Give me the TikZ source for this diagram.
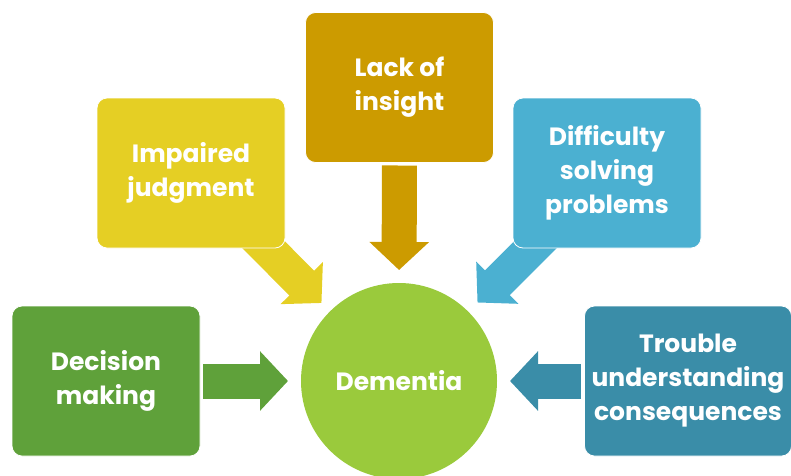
\documentclass[tikz,border=0pt]{standalone}
\usepackage{fontspec}
\setmainfont{Poppins}
\usepackage{tikz}
\usetikzlibrary{arrows.meta,backgrounds}
\definecolor{dmgreen}{HTML}{5FA13A}
\definecolor{demgreen}{HTML}{9ACA3C}
\definecolor{ijyellow}{HTML}{E5CF24}
\definecolor{ligold}{HTML}{CC9B00}
\definecolor{dspblue}{HTML}{4BB0D1}
\definecolor{tuteal}{HTML}{3A8DA8}

\tikzset{
	causebox/.style={rounded corners=10pt, draw=white, line width=0.8pt, text=white,
		minimum width=188pt, minimum height=150pt, align=center, inner sep=0pt, outer sep=0pt,
		font=\fontsize{25}{34}\selectfont\bfseries},
	fatarrow/.style={draw=#1, line width=35pt, -{Triangle[length=28pt, width=58pt]}}
}

\begin{document}
\begin{tikzpicture}[x=1pt, y=-1pt]
			\useasboundingbox (0,0) rectangle (791,475);
			\node[circle, fill=demgreen, minimum size=196pt, inner sep=0pt, outer sep=0pt, text=white,
				font=\fontsize{25}{34}\selectfont\bfseries] (dem) at (399,381) {Dementia};
			\node[causebox, fill=dmgreen] (dm) at (106,381) {Decision\\making};
			\node[causebox, fill=ijyellow] (ij) at (191,173) {Impaired\\judgment};
			\node[causebox, fill=ligold] (li) at (399.5,87.5) {Lack of\\insight};
			\node[causebox, fill=dspblue] (dsp) at (607,173) {Difficulty\\solving\\problems};
			\node[causebox, fill=tuteal, minimum width=207pt] (tu) at (688,381) {Trouble\\understanding\\consequences};
			\coordinate (ij-tail) at (242,223);
			\coordinate (dsp-tail) at (558,222);
			\begin{scope}[on background layer]
				\draw[fatarrow=dmgreen, shorten <=3pt, shorten >=13pt] (dm.east) -- (dem.west);
				\draw[fatarrow=ijyellow, shorten >=12pt] (ij-tail) -- (dem);
				\draw[fatarrow=ligold, shorten <=3pt, shorten >=13pt] (li.south) -- (dem.north);
				\draw[fatarrow=dspblue, shorten >=13pt] (dsp-tail) -- (dem);
				\draw[fatarrow=tuteal, shorten <=3.5pt, shorten >=13pt] (tu.west) -- (dem.east);
			\end{scope}
		\end{tikzpicture}
\end{document}
